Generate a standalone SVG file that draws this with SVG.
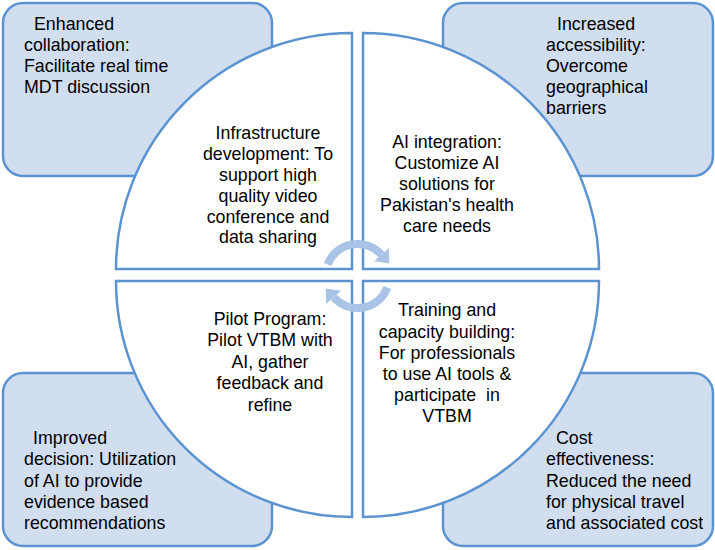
<svg xmlns="http://www.w3.org/2000/svg" width="715" height="550" viewBox="0 0 715 550">
<style>
.box{fill:#d0def0;stroke:#5b93d1;stroke-width:2.5}
.quad{fill:#ffffff;stroke:#5b93d1;stroke-width:2.5}
text{font-family:"Liberation Sans",Arial,sans-serif;font-size:17.8px;fill:#000000}
.c{text-anchor:middle}
.arr{fill:none;stroke:#a9c4e6;stroke-width:8}
</style>
<defs>
<marker id="ah" markerUnits="userSpaceOnUse" markerWidth="22" markerHeight="22" refX="0" refY="11" orient="auto" viewBox="0 0 22 22">
<path d="M0,1 L12,11 L0,21 z" fill="#a9c4e6"/>
</marker>
</defs>
<g id="box-collaboration">
<rect class="box" x="3" y="3" width="269" height="173" rx="20"/>
<text x="34" y="30">Enhanced</text>
<text x="24" y="51">collaboration:</text>
<text x="24" y="72">Facilitate real time</text>
<text x="24" y="93">MDT discussion</text>
</g>
<g id="box-accessibility">
<rect class="box" x="443" y="3" width="270" height="173" rx="20"/>
<text x="557" y="30">Increased</text>
<text x="546" y="51">accessibility:</text>
<text x="546" y="72">Overcome</text>
<text x="546" y="93">geographical</text>
<text x="546" y="114">barriers</text>
</g>
<g id="box-decision">
<rect class="box" x="3" y="373" width="269" height="173" rx="20"/>
<text x="33" y="444">Improved</text>
<text x="24" y="465">decision: Utilization</text>
<text x="24" y="486.5">of AI to provide</text>
<text x="24" y="508">evidence based</text>
<text x="24" y="529">recommendations</text>
</g>
<g id="box-cost">
<rect class="box" x="443" y="373" width="270" height="173" rx="20"/>
<text x="556" y="444">Cost</text>
<text x="546" y="465">effectiveness:</text>
<text x="546" y="486.5">Reduced the need</text>
<text x="546" y="508">for physical travel</text>
<text x="546" y="529">and associated cost</text>
</g>
<g id="quad-infrastructure">
<path class="quad" d="M352,269 L116,269 A236,236 0 0 1 352,33 Z"/>
<text class="c" x="268" y="139">Infrastructure</text>
<text class="c" x="268" y="160">development: To</text>
<text class="c" x="268" y="181">support high</text>
<text class="c" x="268" y="202">quality video</text>
<text class="c" x="268" y="222.5">conference and</text>
<text class="c" x="268" y="243">data sharing</text>
</g>
<g id="quad-ai">
<path class="quad" d="M363,269 L363,33 A236,236 0 0 1 599,269 Z"/>
<text class="c" x="447" y="147.5">AI integration:</text>
<text class="c" x="447" y="168.5">Customize AI</text>
<text class="c" x="447" y="189.5">solutions for</text>
<text class="c" x="447" y="210.5">Pakistan's health</text>
<text class="c" x="447" y="231.5">care needs</text>
</g>
<g id="quad-training">
<path class="quad" d="M363,281 L599,281 A236,236 0 0 1 363,517 Z"/>
<text class="c" x="447" y="316">Training and</text>
<text class="c" x="447" y="337.5">capacity building:</text>
<text class="c" x="447" y="359">For professionals</text>
<text class="c" x="447" y="380">to use AI tools &amp;</text>
<text class="c" x="447" y="401" xml:space="preserve">participate  in</text>
<text class="c" x="447" y="422">VTBM</text>
</g>
<g id="quad-pilot">
<path class="quad" d="M352,281 L352,517 A236,236 0 0 1 116,281 Z"/>
<text class="c" x="270" y="325">Pilot Program:</text>
<text class="c" x="270" y="346">Pilot VTBM with</text>
<text class="c" x="270" y="367.5">AI, gather</text>
<text class="c" x="270" y="389">feedback and</text>
<text class="c" x="270" y="410.5">refine</text>
</g>
<g id="connectors">
<path class="arr" d="M327.6,264.5 A32,32 0 0 1 381.3,254.6" marker-end="url(#ah)"/>
<path class="arr" d="M387.4,287.5 A32,32 0 0 1 333.7,297.4" marker-end="url(#ah)"/>
</g>
</svg>
